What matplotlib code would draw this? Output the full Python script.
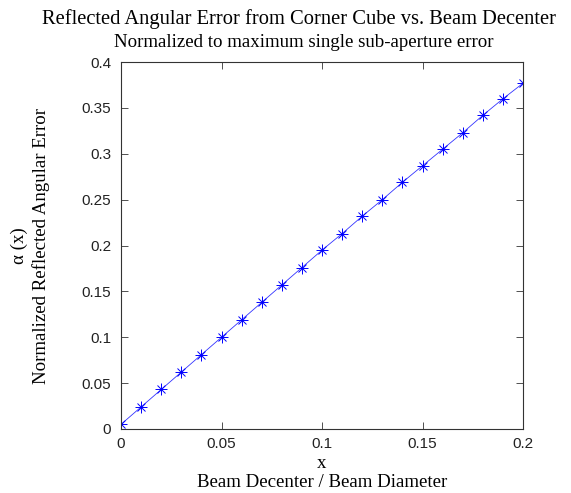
import matplotlib
matplotlib.use("Agg")
import matplotlib.pyplot as plt

# beam decenter (fraction of diameter) and normalized angular error
decenter = [0.00, 0.01, 0.02, 0.03, 0.04, 0.05, 0.06, 0.07, 0.08, 0.09, 0.10,
            0.11, 0.12, 0.13, 0.14, 0.15, 0.16, 0.17, 0.18, 0.19, 0.20]
ang_err = [0.005, 0.024, 0.043, 0.062, 0.081, 0.100, 0.119, 0.138, 0.157, 0.176,
           0.195, 0.213, 0.232, 0.250, 0.269, 0.287, 0.305, 0.323, 0.342, 0.360,
           0.377]
xticks = [0, 0.05, 0.1, 0.15, 0.2]
xticklabels = ["0", "0.05", "0.1", "0.15", "0.2"]
yticks = [0, 0.05, 0.1, 0.15, 0.2, 0.25, 0.3, 0.35, 0.4]
yticklabels = ["0", "0.05", "0.1", "0.15", "0.2", "0.25", "0.3", "0.35", "0.4"]

serif = "Liberation Serif"
sans = "Liberation Sans"

fig = plt.figure(figsize=(5.71, 4.93), dpi=100)
ax = fig.add_axes([0.212, 0.130, 0.704, 0.744])

ax.plot(decenter, ang_err, color="blue", lw=0.6, alpha=0.8)
# matlab-style asterisk: '+' and 'x' overlay
ax.plot(decenter, ang_err, ls="none", marker="+", ms=8, mew=0.7, color="blue")
ax.plot(decenter, ang_err, ls="none", marker="x", ms=6, mew=0.7, color="blue")

ax.set_xlim(0, 0.2)
ax.set_ylim(0, 0.4)
ax.set_xticks(xticks)
ax.set_yticks(yticks)
ax.set_xticklabels(xticklabels, fontfamily=sans, fontsize=11, color="#222222")
ax.set_yticklabels(yticklabels, fontfamily=sans, fontsize=11, color="#222222")
ax.tick_params(axis="x", pad=6)
ax.tick_params(axis="y", pad=7)
ax.tick_params(direction="in", top=True, right=True, length=5, width=0.6,
               color="#333333")
for s in ax.spines.values():
    s.set_linewidth(0.8)
    s.set_color("#333333")

xl = ax.set_xlabel("x\nBeam Decenter / Beam Diameter", fontfamily=serif,
                   fontsize=13.6, linespacing=1.1, va="center")
ax.xaxis.set_label_coords(0.5, -0.12)
yl = ax.set_ylabel("\u03b1 (x)\nNormalized Reflected Angular Error", fontfamily=serif,
                   fontsize=13.6, linespacing=1.25, va="center")
ax.yaxis.set_label_coords(-0.226, 0.5)

fig.text(0.524, 0.951, "Reflected Angular Error from Corner Cube vs. Beam Decenter",
         ha="center", va="baseline", fontfamily=serif, fontsize=14.8)
fig.text(0.532, 0.905, "Normalized to maximum single sub-aperture error",
         ha="center", va="baseline", fontfamily=serif, fontsize=13.6)

fig.savefig("out.png", dpi=100)
